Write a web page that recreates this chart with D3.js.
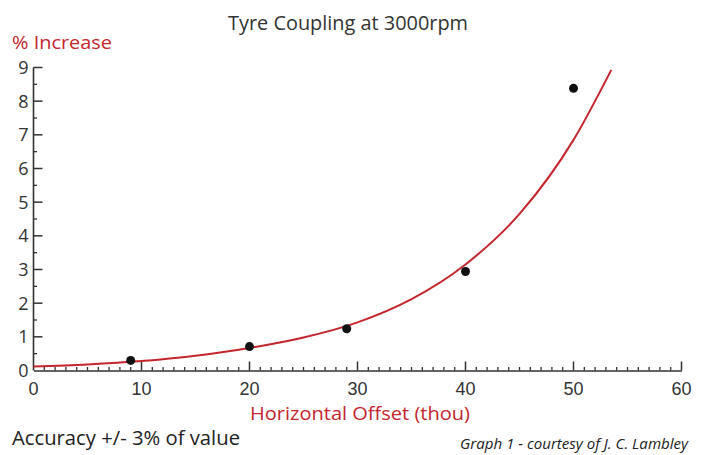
<!DOCTYPE html>
<html>
<head>
<meta charset="utf-8">
<script src="https://cdn.jsdelivr.net/npm/d3@7"></script>
<style>
  body { margin: 0; background: #fff; }
  svg { display: block; font-family: "Open Sans", "Noto Sans", sans-serif; }
</style>
</head>
<body>
<svg id="chart"></svg>
<script>
// measured points (horizontal offset in thou, % increase)
const offsets = [9, 20, 29, 40, 50];
const increases = [0.3, 0.71, 1.24, 2.94, 8.38];

// trend curve
const curveX = [0, 5, 10, 15, 20, 25, 30, 35, 40, 45, 50, 53.5];
const curveY = [0.12, 0.18, 0.28, 0.44, 0.67, 0.98, 1.43, 2.12, 3.15, 4.65, 6.85, 8.93];

const xTicks = [0, 10, 20, 30, 40, 50, 60];
const yTicks = [0, 1, 2, 3, 4, 5, 6, 7, 8, 9];

//------------------------------------------------------------
const W = 709, H = 455;
const red = "#c4262e", ink = "#333";

const svg = d3.select("#chart").attr("width", W).attr("height", H);

const x = d3.scaleLinear().domain([0, 60]).range([33.5, 681.5]);
const y = d3.scaleLinear().domain([0, 9]).range([370.5, 67.5]);

// x axis: line + ticks pointing up
const xAxis = svg.append("g").attr("transform", `translate(0,${y(0)})`);
xAxis.call(d3.axisBottom(x).tickValues(d3.range(0, 61, 1)).tickSize(0).tickFormat(""));
xAxis.select(".domain").attr("stroke", ink).attr("stroke-width", 1.6);
xAxis.selectAll(".tick line").remove();
xAxis.selectAll(".minor")
  .data(d3.range(1, 61).filter(d => d % 10 !== 0))
  .join("line")
  .attr("x1", d => x(d)).attr("x2", d => x(d))
  .attr("y1", 0).attr("y2", -3.5)
  .attr("stroke", ink).attr("stroke-width", 1.3);
xAxis.selectAll(".major")
  .data(xTicks.filter(d => d > 0))
  .join("line")
  .attr("x1", d => x(d)).attr("x2", d => x(d))
  .attr("y1", 0).attr("y2", -9)
  .attr("stroke", ink).attr("stroke-width", 1.5);
xAxis.selectAll(".lab")
  .data(xTicks)
  .join("text")
  .attr("x", d => x(d))
  .attr("y", 24)
  .attr("text-anchor", "middle")
  .attr("fill", ink)
  .style("font-size", "18px")
  .text(d => d);

// y axis: line + ticks pointing right
const yAxis = svg.append("g").attr("transform", `translate(${x(0)},0)`);
yAxis.append("line")
  .attr("y1", y(9)).attr("y2", y(0))
  .attr("stroke", ink).attr("stroke-width", 1.6);
yAxis.selectAll(".minor")
  .data(d3.range(0.5, 9, 1))
  .join("line")
  .attr("y1", d => y(d)).attr("y2", d => y(d))
  .attr("x1", 0).attr("x2", 3.5)
  .attr("stroke", ink).attr("stroke-width", 1.3);
yAxis.selectAll(".major")
  .data(yTicks.filter(d => d > 0))
  .join("line")
  .attr("y1", d => y(d)).attr("y2", d => y(d))
  .attr("x1", 0).attr("x2", 9)
  .attr("stroke", ink).attr("stroke-width", 1.5);
yAxis.selectAll(".lab")
  .data(yTicks)
  .join("text")
  .attr("x", -5)
  .attr("y", d => y(d))
  .attr("dy", "0.36em")
  .attr("text-anchor", "end")
  .attr("fill", ink)
  .style("font-size", "18px")
  .text(d => d);

// trend curve
const line = d3.line()
  .curve(d3.curveMonotoneX)
  .x(d => x(d[0]))
  .y(d => y(d[1]));

svg.append("path")
  .datum(d3.zip(curveX, curveY))
  .attr("fill", "none")
  .attr("stroke", red)
  .attr("stroke-width", 2)
  .attr("d", line);

// data points
svg.selectAll(".pt")
  .data(d3.zip(offsets, increases))
  .join("circle")
  .attr("cx", d => x(d[0]))
  .attr("cy", d => y(d[1]))
  .attr("r", 4.5)
  .attr("fill", "#111");

// texts
function label(txt, px, py, size, fill, len, anchor) {
  return svg.append("text")
    .attr("x", px).attr("y", py)
    .attr("text-anchor", anchor || "start")
    .attr("fill", fill)
    .attr("textLength", len)
    .attr("lengthAdjust", "spacingAndGlyphs")
    .style("font-size", size + "px")
    .text(txt);
}

label("Tyre Coupling at 3000rpm", 228, 30, 20, ink, 240);
label("% Increase", 12, 48.5, 19, red, 100);
label("Horizontal Offset (thou)", 250, 420, 19, red, 220);
label("Accuracy +/- 3% of value", 12, 445, 20, "#222", 228);
label("Graph 1 - courtesy of J. C. Lambley", 688, 449, 15, "#222", 228, "end")
  .style("font-style", "italic");
</script>
</body>
</html>
